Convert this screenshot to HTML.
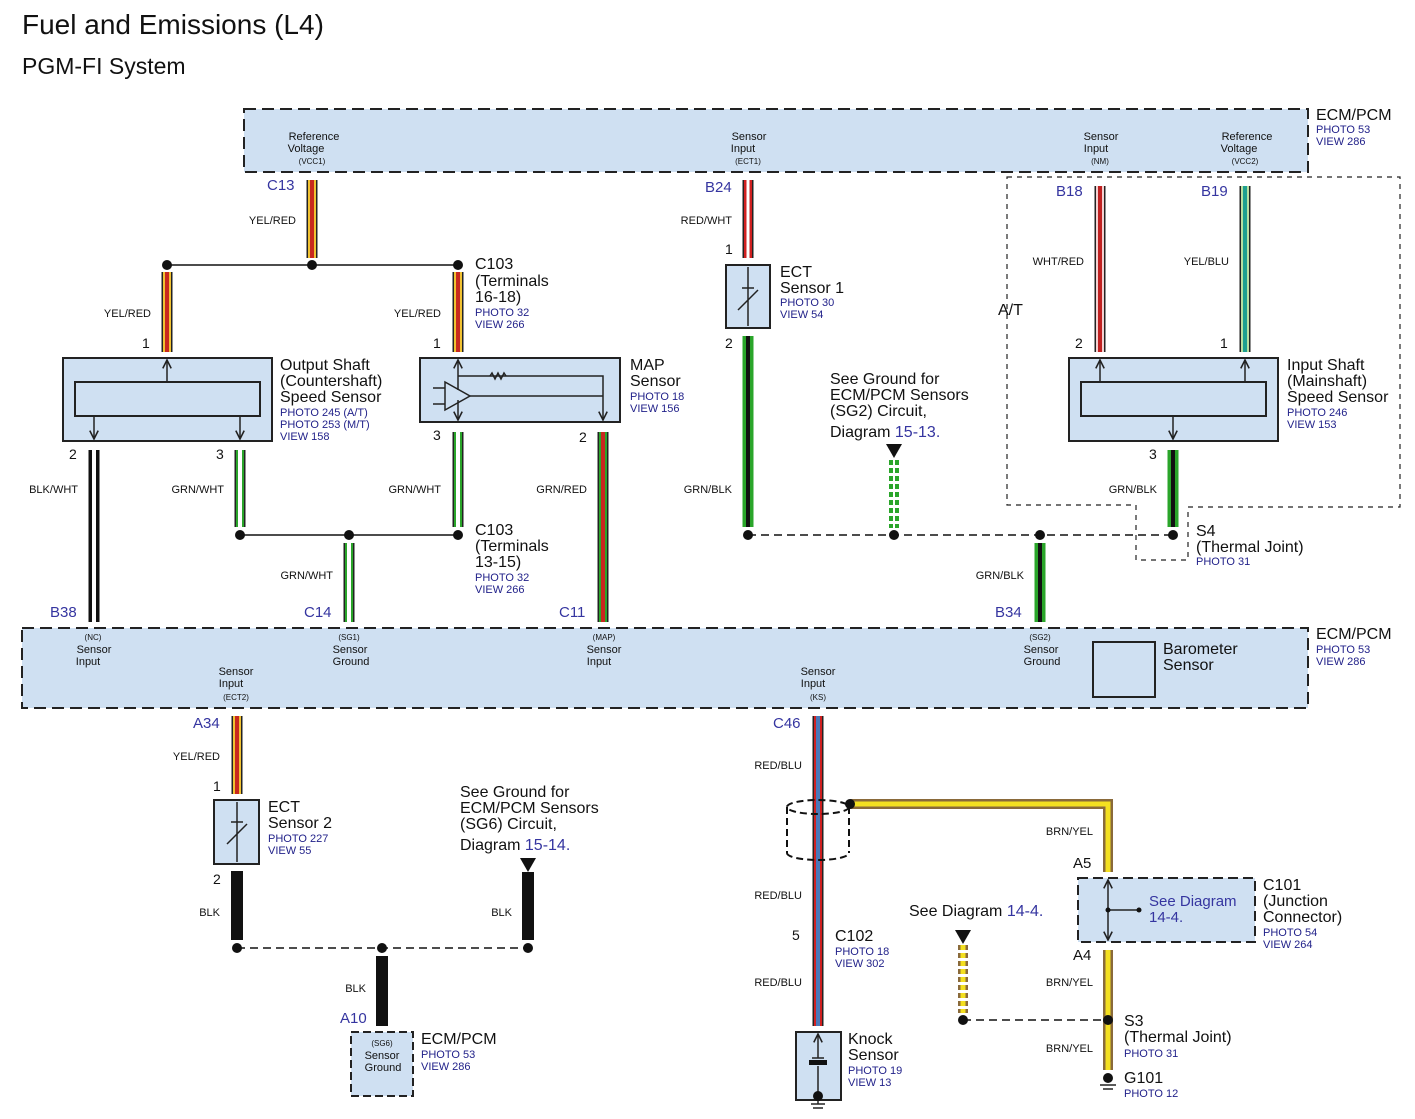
<!DOCTYPE html>
<html><head><meta charset="utf-8"><style>
body{margin:0;background:#fff}
svg{display:block;font-family:"Liberation Sans",sans-serif}
.t{font-size:16px;fill:#111}
.s{font-size:11px;fill:#111}
.p{font-size:11px;fill:#22228a}
.c{font-size:15px;fill:#3535a0}
.xs{font-size:8px;fill:#111}
</style></head><body>
<svg width="1415" height="1119" viewBox="0 0 1415 1119">
<defs>
<marker id="ar" viewBox="0 0 10 10" refX="9" refY="5" markerWidth="7" markerHeight="7" orient="auto"><path d="M1 1 L9 5 L1 9" fill="none" stroke="#222" stroke-width="1.5"/></marker>
</defs>
<text x="22" y="34" style="font-size:28px" fill="#111">Fuel and Emissions (L4)</text>
<text x="22" y="74" style="font-size:23px" fill="#111">PGM-FI System</text>

<!-- Top ECM -->
<rect x="244" y="109" width="1064" height="63" fill="#cfe0f2" stroke="#222" stroke-width="2" stroke-dasharray="12,6"/>
<text class="t" x="1316" y="120">ECM/PCM</text>
<text class="p" x="1316" y="133">PHOTO 53</text><text class="p" x="1316" y="145">VIEW 286</text>
<text class="s" text-anchor="middle" x="314" y="140">Reference</text><text class="s" text-anchor="middle" x="306" y="152">Voltage</text><text class="xs" text-anchor="middle" x="312" y="164">(VCC1)</text>
<text class="s" text-anchor="middle" x="749" y="140">Sensor</text><text class="s" text-anchor="middle" x="743" y="152">Input</text><text class="xs" text-anchor="middle" x="748" y="164">(ECT1)</text>
<text class="s" text-anchor="middle" x="1101" y="140">Sensor</text><text class="s" text-anchor="middle" x="1096" y="152">Input</text><text class="xs" text-anchor="middle" x="1100" y="164">(NM)</text>
<text class="s" text-anchor="middle" x="1247" y="140">Reference</text><text class="s" text-anchor="middle" x="1239" y="152">Voltage</text><text class="xs" text-anchor="middle" x="1245" y="164">(VCC2)</text>

<!-- A/T dashed -->
<path d="M1007 177 H1400 V507 H1188 V560 H1136 V505 H1007 Z" fill="none" stroke="#222" stroke-width="1.2" stroke-dasharray="5,5"/>
<text x="998" y="315" style="font-size:16px" fill="#111">A/T</text>

<!-- Bottom ECM -->
<rect x="22" y="628" width="1286" height="80" fill="#cfe0f2" stroke="#222" stroke-width="2" stroke-dasharray="12,6"/>
<rect x="1093" y="642" width="62" height="55" fill="#cfe0f2" stroke="#222" stroke-width="2"/>
<text class="t" x="1163" y="654">Barometer</text><text class="t" x="1163" y="670">Sensor</text>
<text class="t" x="1316" y="639">ECM/PCM</text>
<text class="p" x="1316" y="653">PHOTO 53</text><text class="p" x="1316" y="665">VIEW 286</text>
<g class="s" text-anchor="middle">
<text class="xs" x="93" y="640">(NC)</text><text x="94" y="653">Sensor</text><text x="88" y="665">Input</text>
<text class="xs" x="349" y="640">(SG1)</text><text x="350" y="653">Sensor</text><text x="351" y="665">Ground</text>
<text class="xs" x="604" y="640">(MAP)</text><text x="604" y="653">Sensor</text><text x="599" y="665">Input</text>
<text class="xs" x="1040" y="640">(SG2)</text><text x="1041" y="653">Sensor</text><text x="1042" y="665">Ground</text>
<text x="236" y="675">Sensor</text><text x="231" y="687">Input</text><text class="xs" x="236" y="700">(ECT2)</text>
<text x="818" y="675">Sensor</text><text x="813" y="687">Input</text><text class="xs" x="818" y="700">(KS)</text>
</g>

<g stroke-linecap="butt">
<g><line x1="312" y1="180" x2="312" y2="258" stroke="#222" stroke-width="11"/><line x1="312" y1="180" x2="312" y2="258" stroke="#f1c232" stroke-width="8"/><line x1="312" y1="180" x2="312" y2="258" stroke="#c8281e" stroke-width="4"/></g>
<g><line x1="167" y1="272" x2="167" y2="352" stroke="#222" stroke-width="11"/><line x1="167" y1="272" x2="167" y2="352" stroke="#f1c232" stroke-width="8"/><line x1="167" y1="272" x2="167" y2="352" stroke="#c8281e" stroke-width="4"/></g>
<g><line x1="458" y1="272" x2="458" y2="352" stroke="#222" stroke-width="11"/><line x1="458" y1="272" x2="458" y2="352" stroke="#f1c232" stroke-width="8"/><line x1="458" y1="272" x2="458" y2="352" stroke="#c8281e" stroke-width="4"/></g>
<g><line x1="94" y1="450" x2="94" y2="622" stroke="#111" stroke-width="11"/><line x1="94" y1="450" x2="94" y2="622" stroke="#fff" stroke-width="4"/></g>
<g><line x1="240" y1="450" x2="240" y2="527" stroke="#222" stroke-width="11"/><line x1="240" y1="450" x2="240" y2="527" stroke="#2aa52a" stroke-width="8"/><line x1="240" y1="450" x2="240" y2="527" stroke="#fff" stroke-width="4"/></g>
<g><line x1="458" y1="432" x2="458" y2="527" stroke="#222" stroke-width="11"/><line x1="458" y1="432" x2="458" y2="527" stroke="#2aa52a" stroke-width="8"/><line x1="458" y1="432" x2="458" y2="527" stroke="#fff" stroke-width="4"/></g>
<g><line x1="349" y1="543" x2="349" y2="622" stroke="#222" stroke-width="11"/><line x1="349" y1="543" x2="349" y2="622" stroke="#2aa52a" stroke-width="8"/><line x1="349" y1="543" x2="349" y2="622" stroke="#fff" stroke-width="4"/></g>
<g><line x1="603" y1="432" x2="603" y2="622" stroke="#222" stroke-width="11"/><line x1="603" y1="432" x2="603" y2="622" stroke="#2aa52a" stroke-width="8"/><line x1="603" y1="432" x2="603" y2="622" stroke="#c8281e" stroke-width="4"/></g>
<g><line x1="748" y1="180" x2="748" y2="258" stroke="#222" stroke-width="11"/><line x1="748" y1="180" x2="748" y2="258" stroke="#d02020" stroke-width="8"/><line x1="748" y1="180" x2="748" y2="258" stroke="#fff" stroke-width="3"/></g>
<g><line x1="748" y1="336" x2="748" y2="527" stroke="#2aa52a" stroke-width="11"/><line x1="748" y1="336" x2="748" y2="527" stroke="#111" stroke-width="4"/></g>
<g><line x1="1040" y1="543" x2="1040" y2="622" stroke="#2aa52a" stroke-width="11"/><line x1="1040" y1="543" x2="1040" y2="622" stroke="#111" stroke-width="4"/></g>
<g><line x1="1173" y1="450" x2="1173" y2="527" stroke="#2aa52a" stroke-width="11"/><line x1="1173" y1="450" x2="1173" y2="527" stroke="#111" stroke-width="4"/></g>
<g><line x1="1100" y1="186" x2="1100" y2="352" stroke="#222" stroke-width="11"/><line x1="1100" y1="186" x2="1100" y2="352" stroke="#f4d0d0" stroke-width="8"/><line x1="1100" y1="186" x2="1100" y2="352" stroke="#c02020" stroke-width="4"/></g>
<g><line x1="1245" y1="186" x2="1245" y2="352" stroke="#222" stroke-width="11"/><line x1="1245" y1="186" x2="1245" y2="352" stroke="#b8e0a0" stroke-width="8"/><line x1="1245" y1="186" x2="1245" y2="352" stroke="#20a090" stroke-width="4"/></g>
<line x1="894" y1="460" x2="894" y2="528" stroke="#2aa52a" stroke-width="10" stroke-dasharray="5,3"/>
<line x1="894" y1="460" x2="894" y2="528" stroke="#fff" stroke-width="2" stroke-dasharray="5,3"/>
<g><line x1="237" y1="716" x2="237" y2="794" stroke="#222" stroke-width="11"/><line x1="237" y1="716" x2="237" y2="794" stroke="#f1c232" stroke-width="8"/><line x1="237" y1="716" x2="237" y2="794" stroke="#c8281e" stroke-width="4"/></g>
<line x1="237" y1="871" x2="237" y2="940" stroke="#111" stroke-width="12"/>
<line x1="528" y1="872" x2="528" y2="940" stroke="#111" stroke-width="12"/>
<line x1="382" y1="956" x2="382" y2="1026" stroke="#111" stroke-width="12"/>
<g><line x1="818" y1="716" x2="818" y2="1026" stroke="#222" stroke-width="11"/><line x1="818" y1="716" x2="818" y2="1026" stroke="#d02020" stroke-width="8"/><line x1="818" y1="716" x2="818" y2="1026" stroke="#4a78b8" stroke-width="4"/></g>
<path d="M850 804 H1108 V872" fill="none" stroke="#8a6a3a" stroke-width="10"/>
<path d="M850 804 H1108 V872" fill="none" stroke="#f4e020" stroke-width="5"/>
<g><line x1="1108" y1="950" x2="1108" y2="1070" stroke="#8a6a3a" stroke-width="10"/><line x1="1108" y1="950" x2="1108" y2="1070" stroke="#f4e020" stroke-width="5"/></g>
<line x1="963" y1="945" x2="963" y2="1013" stroke="#8a6a3a" stroke-width="10" stroke-dasharray="5,3"/>
<line x1="963" y1="945" x2="963" y2="1013" stroke="#f4e020" stroke-width="5" stroke-dasharray="5,3"/>
</g>

<line x1="167" y1="265" x2="458" y2="265" stroke="#111" stroke-width="1.5"/>
<line x1="240" y1="535" x2="458" y2="535" stroke="#111" stroke-width="1.5"/>
<line x1="748" y1="535" x2="1173" y2="535" stroke="#111" stroke-width="1.5" stroke-dasharray="8,5"/>
<line x1="237" y1="948" x2="528" y2="948" stroke="#111" stroke-width="1.5" stroke-dasharray="8,5"/>
<line x1="963" y1="1020" x2="1108" y2="1020" stroke="#111" stroke-width="1.5" stroke-dasharray="8,5"/>
<g fill="#111">
<circle cx="167" cy="265" r="5"/><circle cx="312" cy="265" r="5"/><circle cx="458" cy="265" r="5"/>
<circle cx="240" cy="535" r="5"/><circle cx="349" cy="535" r="5"/><circle cx="458" cy="535" r="5"/>
<circle cx="748" cy="535" r="5"/><circle cx="894" cy="535" r="5"/><circle cx="1040" cy="535" r="5"/><circle cx="1173" cy="535" r="5"/>
<circle cx="237" cy="948" r="5"/><circle cx="382" cy="948" r="5"/><circle cx="528" cy="948" r="5"/>
<circle cx="850" cy="804" r="5"/><circle cx="963" cy="1020" r="5"/><circle cx="1108" cy="1020" r="5"/>
<polygon points="886,444 902,444 894,458"/><polygon points="520,858 536,858 528,872"/><polygon points="955,930 971,930 963,944"/>
</g>

<rect x="63" y="358" width="209" height="83" fill="#cfe0f2" stroke="#222" stroke-width="2"/>
<rect x="75" y="382" width="185" height="34" fill="#cfe0f2" stroke="#222" stroke-width="2"/>
<g stroke="#222" stroke-width="1.5" fill="none"><line x1="167" y1="382" x2="167" y2="360" marker-end="url(#ar)"/><line x1="94" y1="416" x2="94" y2="439" marker-end="url(#ar)"/><line x1="240" y1="416" x2="240" y2="439" marker-end="url(#ar)"/></g>
<text class="t" x="280" y="370">Output Shaft</text><text class="t" x="280" y="386">(Countershaft)</text><text class="t" x="280" y="402">Speed Sensor</text>
<text class="p" x="280" y="416">PHOTO 245 (A/T)</text><text class="p" x="280" y="428">PHOTO 253 (M/T)</text><text class="p" x="280" y="440">VIEW 158</text>

<rect x="420" y="358" width="200" height="64" fill="#cfe0f2" stroke="#222" stroke-width="2"/>
<g stroke="#222" stroke-width="1.5" fill="none">
<line x1="458" y1="390" x2="458" y2="360" marker-end="url(#ar)"/><line x1="458" y1="400" x2="458" y2="420" marker-end="url(#ar)"/><path d="M458 376 H603 V420" marker-end="url(#ar)"/>
<polygon points="445,382 445,410 470,396"/><line x1="470" y1="396" x2="603" y2="396"/>
<line x1="433" y1="388" x2="445" y2="388"/><line x1="433" y1="404" x2="445" y2="404"/>
<path d="M490 376 l2 -3 l3 6 l3 -6 l3 6 l3 -6 l2 3" />
</g>
<text class="t" x="630" y="370">MAP</text><text class="t" x="630" y="386">Sensor</text>
<text class="p" x="630" y="400">PHOTO 18</text><text class="p" x="630" y="412">VIEW 156</text>

<rect x="726" y="265" width="44" height="63" fill="#cfe0f2" stroke="#222" stroke-width="2"/>
<g stroke="#222" stroke-width="1.5" fill="none"><line x1="748" y1="267" x2="748" y2="326"/><path d="M742 288 l12 0 M738 310 l20 -20"/></g>
<text class="t" x="780" y="277">ECT</text><text class="t" x="780" y="293">Sensor 1</text>
<text class="p" x="780" y="306">PHOTO 30</text><text class="p" x="780" y="318">VIEW 54</text>

<text class="t" x="830" y="384">See Ground for</text><text class="t" x="830" y="400">ECM/PCM Sensors</text><text class="t" x="830" y="416">(SG2) Circuit,</text>
<text class="t" x="830" y="437">Diagram <tspan fill="#3535a0">15-13.</tspan></text>

<rect x="1069" y="358" width="209" height="83" fill="#cfe0f2" stroke="#222" stroke-width="2"/>
<rect x="1081" y="382" width="185" height="34" fill="#cfe0f2" stroke="#222" stroke-width="2"/>
<g stroke="#222" stroke-width="1.5"><line x1="1100" y1="382" x2="1100" y2="360" marker-end="url(#ar)"/><line x1="1245" y1="382" x2="1245" y2="360" marker-end="url(#ar)"/><line x1="1173" y1="416" x2="1173" y2="439" marker-end="url(#ar)"/></g>
<text class="t" x="1287" y="370">Input Shaft</text><text class="t" x="1287" y="386">(Mainshaft)</text><text class="t" x="1287" y="402">Speed Sensor</text>
<text class="p" x="1287" y="416">PHOTO 246</text><text class="p" x="1287" y="428">VIEW 153</text>
<text class="t" x="1196" y="536">S4</text><text class="t" x="1196" y="552">(Thermal Joint)</text><text class="p" x="1196" y="565">PHOTO 31</text>

<text class="c" x="267" y="190">C13</text><text class="c" x="705" y="192">B24</text><text class="c" x="1056" y="196">B18</text><text class="c" x="1201" y="196">B19</text>
<g class="s" text-anchor="end">
<text x="296" y="224">YEL/RED</text><text x="151" y="317">YEL/RED</text><text x="441" y="317">YEL/RED</text>
<text x="732" y="224">RED/WHT</text><text x="1084" y="265">WHT/RED</text><text x="1229" y="265">YEL/BLU</text>
<text x="78" y="493">BLK/WHT</text><text x="224" y="493">GRN/WHT</text><text x="441" y="493">GRN/WHT</text><text x="587" y="493">GRN/RED</text>
<text x="732" y="493">GRN/BLK</text><text x="1157" y="493">GRN/BLK</text><text x="333" y="579">GRN/WHT</text><text x="1024" y="579">GRN/BLK</text>
<text x="220" y="760">YEL/RED</text><text x="220" y="916">BLK</text><text x="512" y="916">BLK</text><text x="366" y="992">BLK</text>
<text x="802" y="769">RED/BLU</text><text x="802" y="899">RED/BLU</text><text x="802" y="986">RED/BLU</text>
<text x="1093" y="835">BRN/YEL</text><text x="1093" y="986">BRN/YEL</text><text x="1093" y="1052">BRN/YEL</text>
</g>
<g class="t" style="font-size:14px">
<text x="142" y="348">1</text><text x="433" y="348">1</text><text x="725" y="254">1</text><text x="725" y="348">2</text>
<text x="69" y="459">2</text><text x="216" y="459">3</text><text x="433" y="440">3</text><text x="579" y="442">2</text>
<text x="1075" y="348">2</text><text x="1220" y="348">1</text><text x="1149" y="459">3</text>
<text x="213" y="791">1</text><text x="213" y="884">2</text><text x="792" y="940">5</text>
</g>
<text class="t" x="475" y="269">C103</text><text class="t" x="475" y="286">(Terminals</text><text class="t" x="475" y="302">16-18)</text>
<text class="p" x="475" y="316">PHOTO 32</text><text class="p" x="475" y="328">VIEW 266</text>
<text class="t" x="475" y="535">C103</text><text class="t" x="475" y="551">(Terminals</text><text class="t" x="475" y="567">13-15)</text>
<text class="p" x="475" y="581">PHOTO 32</text><text class="p" x="475" y="593">VIEW 266</text>
<text class="c" x="50" y="617">B38</text><text class="c" x="304" y="617">C14</text><text class="c" x="559" y="617">C11</text><text class="c" x="995" y="617">B34</text>
<text class="c" x="193" y="728">A34</text><text class="c" x="773" y="728">C46</text><text class="c" x="340" y="1023">A10</text>

<rect x="214" y="800" width="45" height="64" fill="#cfe0f2" stroke="#222" stroke-width="2"/>
<g stroke="#222" stroke-width="1.5" fill="none"><line x1="237" y1="802" x2="237" y2="862"/><path d="M231 822 l12 0 M227 844 l20 -20"/></g>
<text class="t" x="268" y="812">ECT</text><text class="t" x="268" y="828">Sensor 2</text>
<text class="p" x="268" y="842">PHOTO 227</text><text class="p" x="268" y="854">VIEW 55</text>
<text class="t" x="460" y="797">See Ground for</text><text class="t" x="460" y="813">ECM/PCM Sensors</text><text class="t" x="460" y="829">(SG6) Circuit,</text>
<text class="t" x="460" y="850">Diagram <tspan fill="#3535a0">15-14.</tspan></text>

<rect x="351" y="1032" width="62" height="64" fill="#cfe0f2" stroke="#222" stroke-width="2" stroke-dasharray="8,4"/>
<text class="xs" text-anchor="middle" x="382" y="1046">(SG6)</text><text class="s" text-anchor="middle" x="382" y="1059">Sensor</text><text class="s" text-anchor="middle" x="383" y="1071">Ground</text>
<text class="t" x="421" y="1044">ECM/PCM</text><text class="p" x="421" y="1058">PHOTO 53</text><text class="p" x="421" y="1070">VIEW 286</text>

<g fill="none" stroke="#111" stroke-width="2" stroke-dasharray="7,4">
<ellipse cx="818" cy="807" rx="31" ry="7"/><path d="M787 807 V853 M849 807 V853"/><path d="M787 853 A31 7 0 0 0 849 853"/>
</g>
<text class="t" x="835" y="941">C102</text><text class="p" x="835" y="955">PHOTO 18</text><text class="p" x="835" y="967">VIEW 302</text>

<rect x="796" y="1032" width="45" height="68" fill="#cfe0f2" stroke="#222" stroke-width="2"/>
<g stroke="#222" stroke-width="1.5"><line x1="818" y1="1058" x2="818" y2="1034" marker-end="url(#ar)"/><line x1="812" y1="1058" x2="824" y2="1058"/><line x1="818" y1="1066" x2="818" y2="1104"/></g>
<rect x="809" y="1060" width="18" height="5" fill="#111"/>
<circle cx="818" cy="1096" r="5" fill="#111"/>
<g stroke="#222" stroke-width="1.5"><line x1="811" y1="1104" x2="825" y2="1104"/><line x1="813" y1="1108" x2="823" y2="1108"/></g>
<text class="t" x="848" y="1044">Knock</text><text class="t" x="848" y="1060">Sensor</text><text class="p" x="848" y="1074">PHOTO 19</text><text class="p" x="848" y="1086">VIEW 13</text>

<rect x="1078" y="878" width="177" height="64" fill="#cfe0f2" stroke="#222" stroke-width="2" stroke-dasharray="10,5"/>
<g stroke="#222" stroke-width="1.5"><line x1="1108" y1="910" x2="1108" y2="880" marker-end="url(#ar)"/><line x1="1108" y1="910" x2="1108" y2="940" marker-end="url(#ar)"/><line x1="1108" y1="910" x2="1138" y2="910"/></g>
<circle cx="1108" cy="910" r="2.5" fill="#111"/><circle cx="1139" cy="910" r="2.5" fill="#111"/>
<text class="c" x="1149" y="906">See Diagram</text><text class="c" x="1149" y="922">14-4.</text>
<text class="t" x="1263" y="890">C101</text><text class="t" x="1263" y="906">(Junction</text><text class="t" x="1263" y="922">Connector)</text>
<text class="p" x="1263" y="936">PHOTO 54</text><text class="p" x="1263" y="948">VIEW 264</text>
<text class="c" x="1073" y="868" style="fill:#111">A5</text><text class="c" x="1073" y="960" style="fill:#111">A4</text>
<text class="t" x="909" y="916">See Diagram <tspan fill="#3535a0">14-4.</tspan></text>
<text class="t" x="1124" y="1026">S3</text><text class="t" x="1124" y="1042">(Thermal Joint)</text><text class="p" x="1124" y="1057">PHOTO 31</text>
<circle cx="1108" cy="1078" r="5" fill="#111"/>
<g stroke="#222" stroke-width="1.5"><line x1="1100" y1="1085" x2="1116" y2="1085"/><line x1="1103" y1="1089" x2="1113" y2="1089"/></g>
<text class="t" x="1124" y="1083">G101</text><text class="p" x="1124" y="1097">PHOTO 12</text>
</svg>
</body></html>
